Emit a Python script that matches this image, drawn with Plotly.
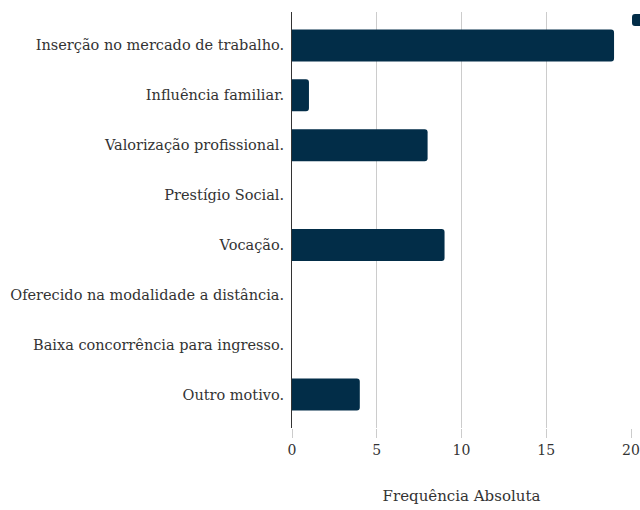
import plotly.graph_objects as go

categories = [
    "Inserção no mercado de trabalho.",
    "Influência familiar.",
    "Valorização profissional.",
    "Prestígio Social.",
    "Vocação.",
    "Oferecido na modalidade a distância.",
    "Baixa concorrência para ingresso.",
    "Outro motivo.",
]
values = [19, 1, 8, 0, 9, 0, 0, 4]
series_name = "Frequência Absoluta"
x_ticks = [0, 5, 10, 15, 20]

FONT = "DejaVu Serif"
BAR = "#022d48"

fig = go.Figure(go.Bar(
    y=categories, x=values, orientation="h",
    marker=dict(color=BAR, line=dict(width=0)),
    width=0.64, name=series_name, showlegend=True,
))

fig.update_layout(
    width=640, height=510,
    margin=dict(l=292, r=9, t=12, b=82, autoexpand=False),
    plot_bgcolor="white", paper_bgcolor="white",
    barcornerradius=3,
    font=dict(family=FONT, size=14, color="#333333"),
    legend=dict(x=0.9617, xanchor="left", y=1.017, yanchor="top",
                font=dict(size=13), bgcolor="rgba(0,0,0,0)"),
    xaxis=dict(
        range=[0, 20], tickvals=x_ticks, showgrid=True, gridcolor="#cccccc",
        gridwidth=1, zeroline=False, ticks="outside", ticklen=9,
        tickcolor="#cccccc", tickfont=dict(size=14, color="#333333"),
        title=dict(text=series_name, font=dict(size=15, color="#333333"), standoff=33),
        showline=False,
    ),
    yaxis=dict(
        autorange=False, range=[7.67, -0.67], showline=True, linecolor="#333333",
        linewidth=1, ticks="", tickfont=dict(size=14.5, color="#333333"),
        ticklabelstandoff=4, showgrid=False,
    ),
)

fig.write_html("out.html", config={"displayModeBar": False},
               post_script="document.body.style.margin='0';")
